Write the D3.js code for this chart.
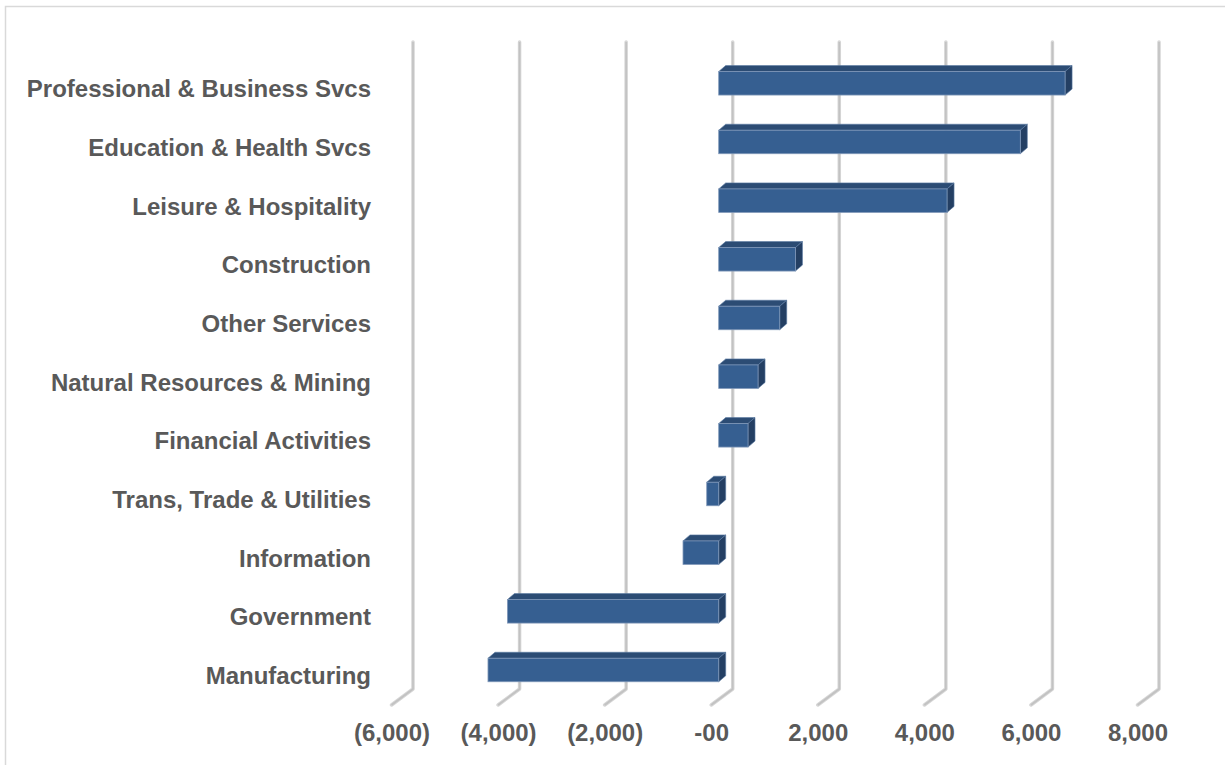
<!DOCTYPE html>
<html>
<head>
<meta charset="utf-8">
<script src="https://cdn.jsdelivr.net/npm/d3@7"></script>
<style>
  html, body { margin: 0; padding: 0; background: #fff; }
  svg { display: block; }
</style>
</head>
<body>
<svg id="chart" width="1225" height="765"></svg>
<script>
// ---- data ----
const categories = [
  "Professional & Business Svcs",
  "Education & Health Svcs",
  "Leisure & Hospitality",
  "Construction",
  "Other Services",
  "Natural Resources & Mining",
  "Financial Activities",
  "Trans, Trade & Utilities",
  "Information",
  "Government",
  "Manufacturing"
];
const values = [6500, 5660, 4285, 1440, 1145, 738, 550, -225, -670, -3965, -4330];
const tickValues = [-6000, -4000, -2000, 0, 2000, 4000, 6000, 8000];
const tickLabels = ["(6,000)", "(4,000)", "(2,000)", "-00", "2,000", "4,000", "6,000", "8,000"];

// ---- layout ----
const svg = d3.select("#chart");
const font = "'Liberation Sans', Arial, sans-serif";
const textColor = "#595959";

// chart border (top & left visible)
svg.append("rect")
  .attr("x", 5.5).attr("y", 6.5)
  .attr("width", 1240).attr("height", 780)
  .attr("fill", "#fff").attr("stroke", "#d9d9d9").attr("stroke-width", 1.5);

// x scale: back wall positions
const x = d3.scaleLinear().domain([-6000, 8000]).range([413, 1159]);
// category positions (bar centres on the front face)
const y = d3.scalePoint().domain(categories).range([83.3, 670]);

const wallTop = 42, wallBottom = 689;
const floorDX = -21.5, floorDY = 16;   // floor depth offset (back -> front)
const barDX = -14;                     // bar front face offset from back wall
const depthX = 7, depthY = -6;         // bar depth offset
const barH = 23.5;

// ---- gridlines (back wall + floor) ----
const grid = svg.append("g");
tickValues.forEach(v => {
  const gx = x(v);
  const path = `M${gx},${wallTop} L${gx},${wallBottom} L${gx + floorDX},${wallBottom + floorDY}`;
  grid.append("path").attr("d", path)
    .attr("fill", "none").attr("stroke", "#d6d6d6").attr("stroke-width", 3.5)
    .attr("stroke-linecap", "round").attr("stroke-linejoin", "round");
  grid.append("path").attr("d", path)
    .attr("fill", "none").attr("stroke", "#c2c2c2").attr("stroke-width", 1.6)
    .attr("stroke-linejoin", "round");
});

// ---- bars ----
const frontColor = "#365f91", topColor = "#2c4c74", sideColor = "#243f63";
const bars = svg.append("g");
categories.forEach((c, i) => {
  const v = values[i];
  const a = Math.min(x(0), x(v)) + barDX;
  const b = Math.max(x(0), x(v)) + barDX;
  const y0 = y(c) - barH / 2, y1 = y(c) + barH / 2;
  // top face
  bars.append("path")
    .attr("d", `M${a},${y0} L${a + depthX},${y0 + depthY} L${b + depthX},${y0 + depthY} L${b},${y0} Z`)
    .attr("fill", topColor).attr("stroke", "#5a7aa3").attr("stroke-width", 0.6).attr("stroke-linejoin", "round");
  // side face
  bars.append("path")
    .attr("d", `M${b},${y0} L${b + depthX},${y0 + depthY} L${b + depthX},${y1 + depthY} L${b},${y1} Z`)
    .attr("fill", sideColor).attr("stroke", "#5a7aa3").attr("stroke-width", 0.6).attr("stroke-linejoin", "round");
  // front face
  bars.append("rect")
    .attr("x", a).attr("y", y0).attr("width", b - a).attr("height", barH)
    .attr("fill", frontColor).attr("stroke", "#7f97b8").attr("stroke-width", 0.8);
});

// ---- x axis labels (front floor edge) ----
const xAxis = d3.axisBottom(x)
  .tickValues(tickValues)
  .tickFormat((d, i) => tickLabels[i])
  .tickSize(0);
const gx = svg.append("g")
  .attr("transform", `translate(${floorDX},${741})`)
  .call(xAxis);
gx.select(".domain").remove();
gx.selectAll("text")
  .attr("y", 0).attr("dy", 0)
  .attr("font-family", font).attr("font-size", 24).attr("font-weight", "bold")
  .attr("fill", textColor);

// ---- category labels ----
const yAxis = d3.axisLeft(y).tickSize(0).tickPadding(0);
const gy = svg.append("g")
  .attr("transform", `translate(371,0)`)
  .call(yAxis);
gy.select(".domain").remove();
gy.selectAll("text")
  .attr("x", 0).attr("dy", 0).attr("y", 13.5)
  .attr("font-family", font).attr("font-size", 24).attr("font-weight", "bold")
  .attr("fill", textColor);
</script>
</body>
</html>
